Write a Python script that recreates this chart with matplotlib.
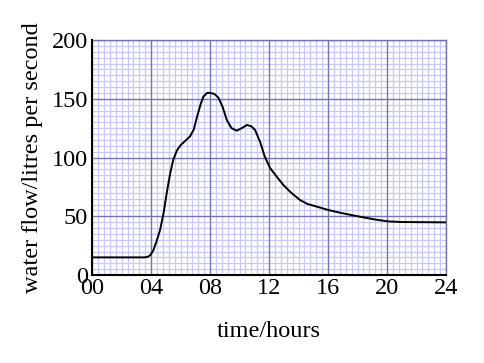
import numpy as np
import matplotlib
matplotlib.use('agg')
import matplotlib.pyplot as plt

# readings from the hydrograph (hours, litres per second)
hours = [0, 1, 2, 3, 3.5, 3.75, 3.95, 4.15, 4.35, 4.6, 4.85, 5.06, 5.3, 5.5, 5.75,
         6.0, 6.3, 6.64, 6.9, 7.1, 7.35, 7.55, 7.8, 8.0, 8.3, 8.56, 8.85, 9.13,
         9.45, 9.8, 10.15, 10.5, 10.8, 11.05, 11.4, 11.7, 12.07, 12.5, 12.97,
         13.5, 14.1, 14.6, 15.23, 16.02, 17.0, 18.17, 19.2, 20.1, 21.0, 22.0,
         23.0, 24.0]
flow = [15, 15, 15, 15, 15, 15.3, 17, 21, 28, 38, 53, 70, 87, 98, 106,
        110.5, 114, 118, 124, 134, 145, 152, 155, 155, 154, 151, 143, 132,
        125, 122.8, 125, 127.7, 126.5, 123.4, 113, 101, 91, 84, 76.6,
        70, 63.8, 60.5, 58.2, 55.3, 52.5, 49.6, 47.2, 45.6, 45.1, 45,
        44.9, 44.8]

xticks = [0, 4, 8, 12, 16, 20, 24]
xticklabels = ['00', '04', '08', '12', '16', '20', '24']
yticks = [0, 50, 100, 150, 200]

major_col = '#7474b4'
minor_col = '#c8c8ff'

plt.rcParams['font.family'] = ['Liberation Serif', 'DejaVu Serif']

fig = plt.figure(figsize=(4.85, 3.63), dpi=100)
ax = fig.add_axes([0.19, 0.2424, 0.7296, 0.6474])

ax.set_xlim(0, 24)
ax.set_ylim(0, 200)
ax.set_xticks(xticks)
ax.set_xticklabels(xticklabels)
ax.set_yticks(yticks)
ax.set_xticks(np.arange(0, 24.01, 0.4), minor=True)
ax.set_yticks(np.arange(0, 200.01, 5), minor=True)

# light graph-paper grid, then the darker lines on top of it
ax.grid(which='minor', color=minor_col, linewidth=0.9, zorder=0)
ax.set_axisbelow(True)
for x in xticks:
    ax.axvline(x, color=major_col, linewidth=1.0, zorder=1)
for y in yticks:
    ax.axhline(y, color=major_col, linewidth=1.0, zorder=1)

ax.tick_params(which='both', length=0, labelsize=17.5)
ax.tick_params(axis='x', pad=2)
ax.tick_params(axis='y', pad=3)

ax.plot(hours, flow, color='black', linewidth=1.4, solid_joinstyle='round', zorder=3)

for side in ['top', 'right']:
    ax.spines[side].set_color(major_col)
    ax.spines[side].set_linewidth(1.0)
for side in ['left', 'bottom']:
    ax.spines[side].set_color('black')
    ax.spines[side].set_linewidth(1.5)
    ax.spines[side].set_zorder(4)

ax.set_xlabel('time/hours', fontsize=17.5, labelpad=16)
ax.set_ylabel('water flow/litres per second', fontsize=17.5, labelpad=6)

fig.savefig('out.png', dpi=100)
